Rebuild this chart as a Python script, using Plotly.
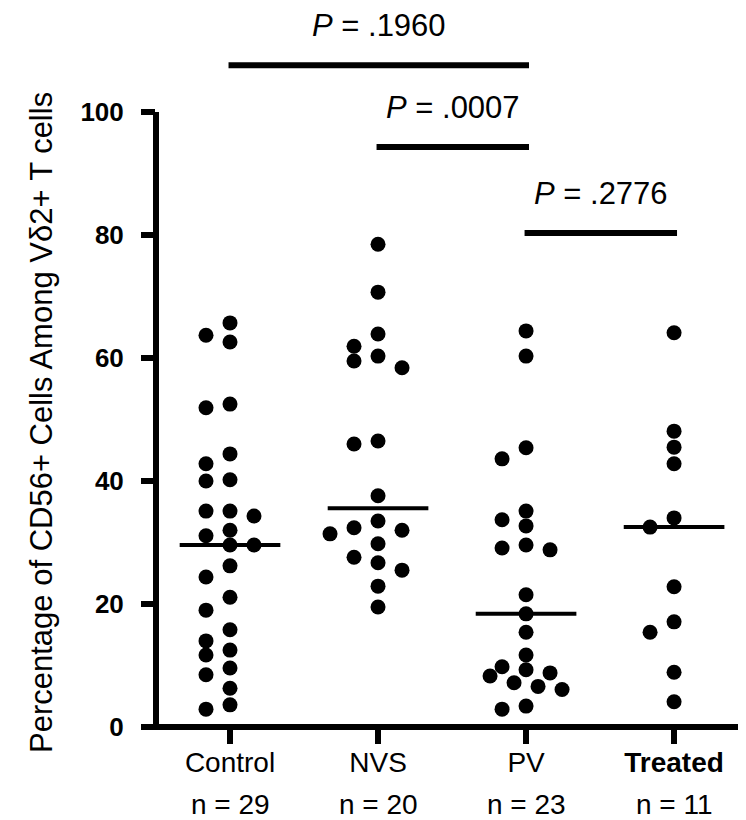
import numpy as np
import plotly.graph_objects as go

# ---------------- data ----------------
categories = ["Control", "NVS", "PV", "Treated"]
n_labels = ["n = 29", "n = 20", "n = 23", "n = 11"]

control = [65.7, 63.7, 62.6, 52.5, 51.9, 44.4, 42.8, 40.2, 40.0, 35.1, 35.1, 34.3,
           32.0, 31.1, 29.6, 29.6, 26.2, 24.4, 21.1, 19.0, 15.8, 14.0, 12.5, 11.7,
           9.6, 8.5, 6.3, 3.6, 2.9]
nvs = [78.5, 70.7, 63.9, 61.9, 60.3, 59.5, 58.4, 46.5, 46.0, 37.6, 33.5, 32.4,
       32.0, 31.4, 29.8, 27.6, 26.7, 25.5, 22.9, 19.5]
pv = [64.4, 60.3, 45.4, 43.6, 35.1, 33.7, 32.7, 29.6, 29.1, 28.8, 21.5, 18.4,
      15.4, 11.7, 9.8, 9.3, 8.8, 8.3, 7.2, 6.6, 6.1, 3.4, 2.9]
treated = [64.1, 48.1, 45.5, 42.8, 34.0, 32.5, 22.8, 17.1, 15.4, 8.9, 4.1]

groups = [control, nvs, pv, treated]

comparisons = [(0, 2), (1, 2), (2, 3)]
p_values = ["<i>P</i> = .1960", "<i>P</i> = .0007", "<i>P</i> = .2776"]
bracket_levels = [107.6, 94.3, 80.3]

y_ticks = [0, 20, 40, 60, 80, 100]
y_title = "Percentage of CD56+ Cells Among Vδ2+ T cells"

# ---------------- layout geometry ----------------
W, H = 746, 820
ML, MR, MT, MB = 148, 0, 0, 101
plot_w = W - ML - MR
plot_h = H - MT - MB
x_range = [-0.5, 3.54]
y_range = [0, 116.9]
px_per_cat = plot_w / (x_range[1] - x_range[0])
px_per_unit = plot_h / (y_range[1] - y_range[0])

FONT = "Liberation Sans, Arial, sans-serif"


def swarm_offsets(vals, step=12.0, thresh=14.0):
    vals = np.asarray(vals, dtype=float)
    order = np.argsort(-vals, kind="stable")
    placed = []
    offs = np.zeros(len(vals))
    cands = [0, -2, 2, -1, 1, -3, 3, -4, 4]
    for i in order:
        y = vals[i] * px_per_unit
        xpos = 0.0
        for c in cands:
            xpos = c * step
            if all((xpos - px) ** 2 + (y - py) ** 2 >= thresh ** 2 for px, py in placed):
                break
        placed.append((xpos, y))
        offs[i] = xpos / px_per_cat
    return offs


fig = go.Figure()

for gi, vals in enumerate(groups):
    offs = swarm_offsets(vals)
    fig.add_trace(go.Scatter(
        x=gi + offs, y=vals, mode="markers",
        marker=dict(size=15, color="black", line=dict(width=0)),
        showlegend=False, hoverinfo="y", cliponaxis=False,
    ))

shapes = []
# medians
for gi, vals in enumerate(groups):
    m = float(np.median(vals))
    shapes.append(dict(type="line", xref="x", yref="y", x0=gi - 0.34, x1=gi + 0.34,
                       y0=m, y1=m, line=dict(color="black", width=4)))

# axis lines
y100_paper = 100 / y_range[1]
shapes.append(dict(type="line", xref="paper", yref="paper", x0=0, x1=0, y0=0, y1=y100_paper,
                   line=dict(color="black", width=6)))
shapes.append(dict(type="line", xref="paper", yref="paper", x0=-15 / plot_w, x1=1, y0=0, y1=0,
                   line=dict(color="black", width=6)))

annotations = []
# brackets and p-values
for (a, b), lvl, txt in zip(comparisons, bracket_levels, p_values):
    shapes.append(dict(type="line", xref="x", yref="y", x0=a - 0.01, x1=b + 0.02,
                       y0=lvl, y1=lvl, line=dict(color="black", width=6)))
    annotations.append(dict(x=(a + b) / 2 + 0.005, y=lvl + 6.5, xref="x", yref="y",
                            text=txt, showarrow=False, yanchor="middle", xanchor="center",
                            font=dict(family=FONT, size=31, color="black")))

# n labels
for gi, lab in enumerate(n_labels):
    annotations.append(dict(x=gi, y=-(MB - 7) / plot_h, xref="x", yref="paper", text=lab,
                            showarrow=False, yanchor="bottom", xanchor="center",
                            borderpad=0,
                            font=dict(family=FONT, size=28, color="black")))

# y-axis title as rotated annotation
annotations.append(dict(x=(33 - ML) / plot_w, y=(plot_h - 415) / plot_h, xref="paper", yref="paper",
                        text=y_title, textangle=-90, showarrow=False,
                        xanchor="center", yanchor="middle",
                        font=dict(family=FONT, size=31, color="black")))

ticktext = [c if c != "Treated" else "<b>Treated</b>" for c in categories]

fig.update_layout(
    width=W, height=H,
    margin=dict(l=ML, r=MR, t=MT, b=MB, pad=0),
    paper_bgcolor="white", plot_bgcolor="white",
    shapes=shapes, annotations=annotations,
    xaxis=dict(range=x_range, tickvals=list(range(len(categories))), ticktext=ticktext,
               ticks="outside", ticklen=16, tickwidth=6, tickcolor="black",
               ticklabelstandoff=-6,
               showline=False, showgrid=False, zeroline=False,
               tickfont=dict(family=FONT, size=28, color="black")),
    yaxis=dict(range=y_range, tickvals=y_ticks, ticktext=[str(t) for t in y_ticks],
               ticks="outside", ticklen=14, tickwidth=6, tickcolor="black",
               ticklabelstandoff=12,
               showline=False, showgrid=False, zeroline=False,
               tickfont=dict(family=FONT, size=26, color="black", weight="bold")),
)

fig.write_html("out.html")
